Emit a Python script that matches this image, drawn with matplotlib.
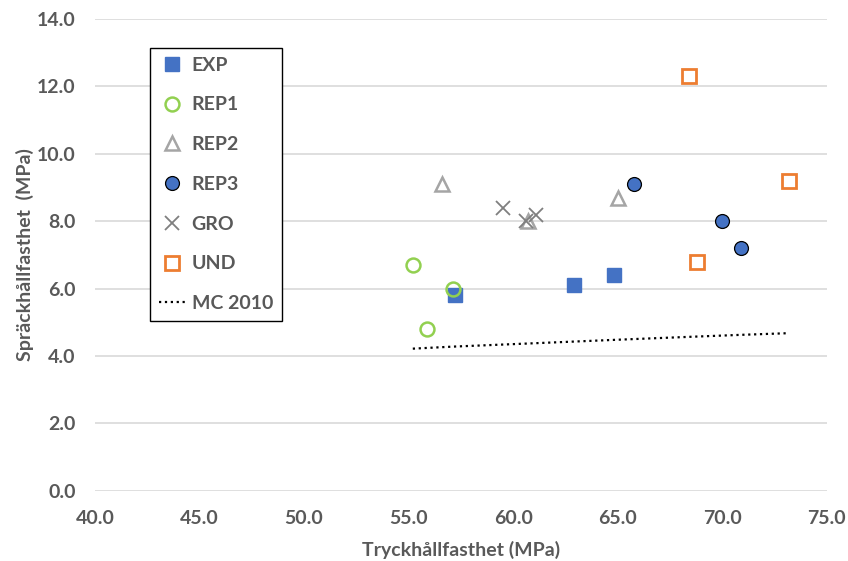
import matplotlib.pyplot as plt

plt.rcParams['font.family'] = ['Lato', 'DejaVu Sans']

# Tryckhållfasthet (x) and spräckhållfasthet (y), MPa
exp_x = [57.2, 62.9, 64.8]
exp_y = [5.8, 6.1, 6.4]
rep1_x = [55.2, 55.9, 57.1]
rep1_y = [6.7, 4.8, 6.0]
rep2_x = [56.6, 60.7, 65.0]
rep2_y = [9.1, 8.0, 8.7]
rep3_x = [65.8, 70.0, 70.9]
rep3_y = [9.1, 8.0, 7.2]
gro_x = [59.5, 60.6, 61.1]
gro_y = [8.4, 8.0, 8.2]
und_x = [68.4, 73.2, 68.8]
und_y = [12.3, 9.2, 6.8]
mc_x = [55.2, 57.1, 60.6, 64.8, 68.4, 70.9, 73.2]
mc_y = [4.22, 4.28, 4.37, 4.48, 4.57, 4.63, 4.68]

xticks = [40, 45, 50, 55, 60, 65, 70, 75]
yticks = [0, 2, 4, 6, 8, 10, 12, 14]

txt = '#595959'
fs = 14

fig = plt.figure(figsize=(8.48, 5.61), dpi=100)
ax = fig.add_axes([0.112, 0.125, 0.863, 0.841])

ax.plot(exp_x, exp_y, 's', ms=9.5, color='#4472C4', mec='#4472C4', label='EXP')
ax.plot(rep1_x, rep1_y, 'o', ms=10, mfc='none', mec='#92D050', mew=1.8, label='REP1')
ax.plot(rep2_x, rep2_y, '^', ms=9.5, mfc='none', mec='#A5A5A5', mew=1.8, label='REP2')
ax.plot(rep3_x, rep3_y, 'o', ms=10, color='#4472C4', mec='black', mew=0.9, label='REP3')
ax.plot(gro_x, gro_y, 'x', ms=10, color='#7F7F7F', mew=1.3, label='GRO')
ax.plot(und_x, und_y, 's', ms=9.5, mfc='none', mec='#ED7D31', mew=2, label='UND')
ax.plot(mc_x, mc_y, ':', color='black', lw=1.6, label='MC 2010')

ax.set_xlim(40, 75)
ax.set_ylim(0, 14)
ax.set_xticks(xticks)
ax.set_yticks(yticks)
ax.set_xticklabels([f'{v:.1f}' for v in xticks])
ax.set_yticklabels([f'{v:.1f}' for v in yticks])
ax.tick_params(length=0, labelsize=fs, colors=txt)
ax.tick_params(axis='x', pad=14)
ax.tick_params(axis='y', pad=14)
for lab in ax.get_xticklabels() + ax.get_yticklabels():
    lab.set_fontweight('bold')
ax.grid(axis='y', color='#D9D9D9', lw=1.2)
ax.set_axisbelow(True)
for s in ax.spines.values():
    s.set_visible(False)

ax.set_xlabel('Tryckhållfasthet (MPa)', fontsize=fs, fontweight='bold', color=txt, labelpad=10)
ax.set_ylabel('Spräckhållfasthet  (MPa)', fontsize=fs, fontweight='bold', color=txt, labelpad=2)

leg = ax.legend(loc='upper left', bbox_to_anchor=(0.075, 0.939), borderaxespad=0,
                fontsize=fs, labelspacing=1.17, handlelength=1.4, handletextpad=0.3,
                borderpad=0.45, fancybox=False, edgecolor='black', framealpha=1)
leg.get_frame().set_linewidth(1.0)
for t in leg.get_texts():
    t.set_color(txt)
    t.set_fontweight('bold')

plt.savefig('out.png', dpi=100)
